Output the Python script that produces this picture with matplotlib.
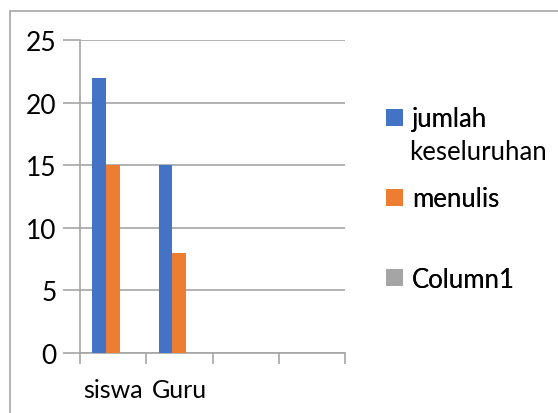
import numpy as np
import matplotlib.pyplot as plt
from matplotlib.patches import Rectangle

plt.rcParams['font.family'] = ['Lato', 'DejaVu Sans']

# Data
categories = ['siswa', 'Guru', '', '']
jumlah_keseluruhan = [22, 15, 0, 0]
menulis = [15, 8, 0, 0]
column1 = [0, 0, 0, 0]
series_names = ['jumlah', 'menulis', 'Column1']
colors = ['#4472C4', '#ED7D31', '#A5A5A5']

W, H = 558, 414
fig = plt.figure(figsize=(W / 100, H / 100), dpi=100)
ax = fig.add_axes([80 / W, 1 - 354 / H, 265 / W, 313 / H])

x = np.arange(len(categories))
w = 0.21
bars = []
for i, vals in enumerate([jumlah_keseluruhan, menulis, column1]):
    b = ax.bar(x + (i - 1) * w, vals, width=w, color=colors[i], label=series_names[i], zorder=3)
    bars.append(b)

ax.set_xlim(-0.5, len(categories) - 0.5)
ax.set_ylim(0, 25)
ax.set_yticks(np.arange(0, 26, 5))
ax.set_xticks(x)
ax.set_xticklabels(categories)
ax.set_xticks(np.arange(-0.5, len(categories)), minor=True)

ax.grid(axis='y', color='#A6A6A6', linewidth=1.2, zorder=0)
for s in ['top', 'right']:
    ax.spines[s].set_visible(False)
for s in ['left', 'bottom']:
    ax.spines[s].set_color('#A6A6A6')
    ax.spines[s].set_linewidth(1.2)
ax.tick_params(axis='y', length=12, width=1.2, color='#A6A6A6', labelsize=19, pad=5)
ax.tick_params(axis='x', which='major', length=0, labelsize=18, pad=18)
ax.tick_params(axis='x', which='minor', length=8, width=1.2, color='#A6A6A6')
ax.set_axisbelow(True)

# legend, one entry per call so each line can be placed
legend_y = [120, 200, 280]
for b, name, yy in zip(bars, series_names, legend_y):
    lg = fig.legend([b], [name], loc='center left', bbox_to_anchor=(386 / W, 1 - yy / H),
                    frameon=False, fontsize=18.5, handlelength=0.65, handleheight=0.65,
                    handletextpad=0.35, borderpad=0, borderaxespad=0)
    fig.add_artist(lg)
fig.text(409 / W, 1 - 152 / H, 'keseluruhan', fontsize=18.5, va='center', ha='left')

# chart border
fig.patches.append(Rectangle((10 / W, -0.1), 1.1, (H - 12) / H + 0.1,
                             transform=fig.transFigure, fill=False,
                             edgecolor='#A6A6A6', linewidth=1.2))

fig.savefig('out.png', dpi=100)
